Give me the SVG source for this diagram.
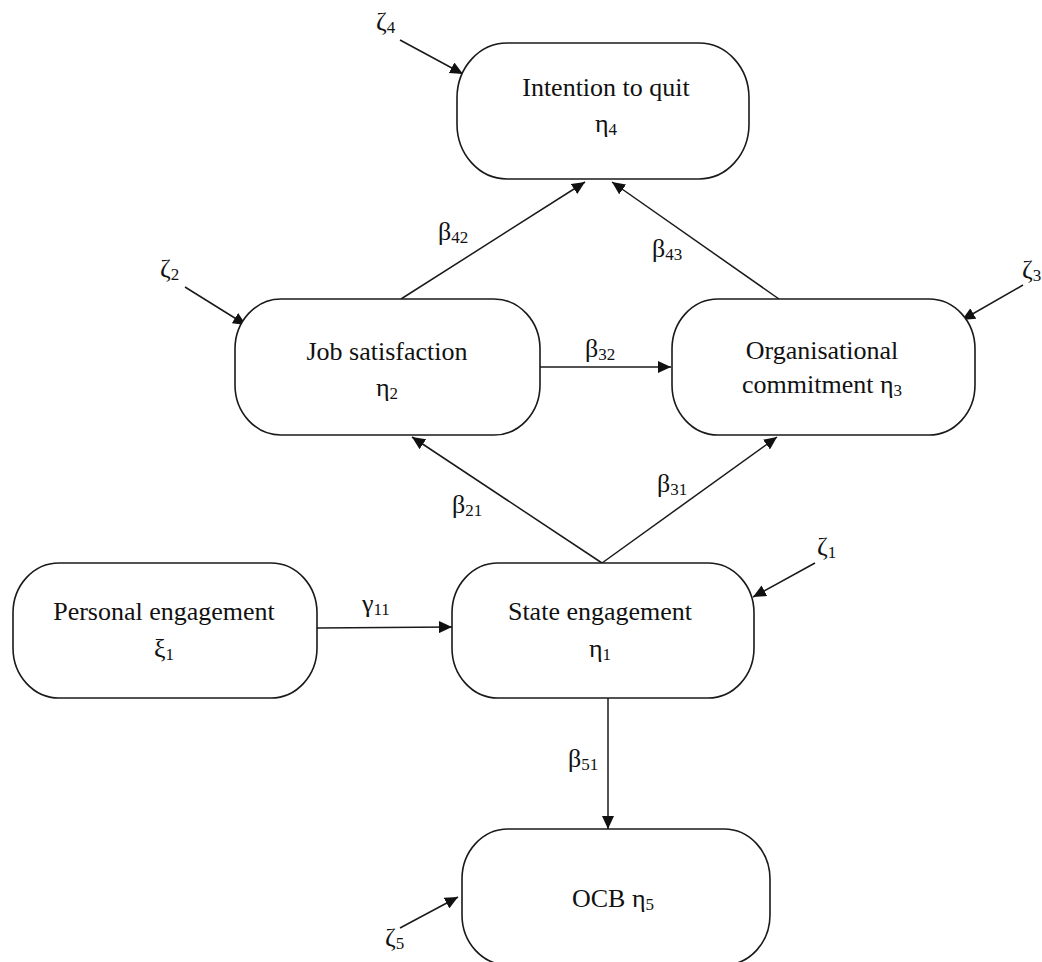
<svg xmlns="http://www.w3.org/2000/svg" width="1042" height="962" viewBox="0 0 1042 962">
  <style>
    .node { fill: #ffffff; stroke: #1a1a1a; stroke-width: 1.6; }
    .edge { fill: none; stroke: #1a1a1a; stroke-width: 1.5; }
    .lbl { font-family: "Liberation Serif", "Times New Roman", serif; font-size: 26px; fill: #111111; }
    .mid { text-anchor: middle; }
    .sub { font-size: 17px; }
  </style>
  <defs>
    <marker id="arrow" markerUnits="userSpaceOnUse" markerWidth="14" markerHeight="12" refX="13" refY="6" orient="auto">
      <path d="M0,0 L13,6 L0,12 z" fill="#111111"/>
    </marker>
  </defs>

  <rect width="1042" height="962" fill="#ffffff"/>

  <!-- connectors -->
  <g id="connectors">
    <line class="edge" x1="401" y1="299" x2="585" y2="182" marker-end="url(#arrow)"/>
    <line class="edge" x1="779" y1="299" x2="612" y2="182" marker-end="url(#arrow)"/>
    <line class="edge" x1="540" y1="367" x2="671" y2="367" marker-end="url(#arrow)"/>
    <line class="edge" x1="602" y1="563" x2="412" y2="437" marker-end="url(#arrow)"/>
    <line class="edge" x1="602" y1="563" x2="777" y2="437" marker-end="url(#arrow)"/>
    <line class="edge" x1="317" y1="628" x2="452" y2="627" marker-end="url(#arrow)"/>
    <line class="edge" x1="608" y1="698" x2="608" y2="829" marker-end="url(#arrow)"/>
    <!-- disturbance terms -->
    <line class="edge" x1="400" y1="40" x2="463" y2="74" marker-end="url(#arrow)"/>
    <line class="edge" x1="185" y1="287" x2="246" y2="325" marker-end="url(#arrow)"/>
    <line class="edge" x1="1023" y1="285" x2="962" y2="320" marker-end="url(#arrow)"/>
    <line class="edge" x1="815" y1="563" x2="753" y2="597" marker-end="url(#arrow)"/>
    <line class="edge" x1="400" y1="928" x2="458" y2="897" marker-end="url(#arrow)"/>
  </g>

  <!-- path coefficient labels -->
  <g id="coefficients" class="lbl">
    <text x="438" y="240">β<tspan class="sub" dy="3">42</tspan></text>
    <text x="652" y="257">β<tspan class="sub" dy="3">43</tspan></text>
    <text x="585" y="357">β<tspan class="sub" dy="3">32</tspan></text>
    <text x="452" y="513">β<tspan class="sub" dy="3">21</tspan></text>
    <text x="657" y="492">β<tspan class="sub" dy="3">31</tspan></text>
    <text x="362" y="612">γ<tspan class="sub" dy="3">11</tspan></text>
    <text x="568" y="767">β<tspan class="sub" dy="3">51</tspan></text>
  </g>

  <!-- disturbance labels -->
  <g id="disturbances" class="lbl">
    <text x="376" y="30">ζ<tspan class="sub" dy="3">4</tspan></text>
    <text x="160" y="277">ζ<tspan class="sub" dy="3">2</tspan></text>
    <text x="1022" y="278">ζ<tspan class="sub" dy="3">3</tspan></text>
    <text x="817" y="555">ζ<tspan class="sub" dy="3">1</tspan></text>
    <text x="385" y="946">ζ<tspan class="sub" dy="3">5</tspan></text>
  </g>

  <!-- nodes -->
  <g id="eta4">
    <rect class="node" x="457" y="43" width="292" height="136" rx="50" ry="55"/>
    <text class="lbl mid" x="606" y="96">Intention to quit</text>
    <text class="lbl mid" x="606" y="132">η<tspan class="sub" dy="3">4</tspan></text>
  </g>

  <g id="eta2">
    <rect class="node" x="235" y="299" width="305" height="136" rx="46" ry="50"/>
    <text class="lbl mid" x="387" y="360">Job satisfaction</text>
    <text class="lbl mid" x="387" y="396">η<tspan class="sub" dy="3">2</tspan></text>
  </g>

  <g id="eta3">
    <rect class="node" x="672" y="299" width="303" height="136" rx="46" ry="50"/>
    <text class="lbl mid" x="822" y="359">Organisational</text>
    <text class="lbl mid" x="822" y="393">commitment η<tspan class="sub" dy="3">3</tspan></text>
  </g>

  <g id="xi1">
    <rect class="node" x="13" y="563" width="304" height="135" rx="46" ry="50"/>
    <text class="lbl mid" x="164" y="620">Personal engagement</text>
    <text class="lbl mid" x="164" y="657">ξ<tspan class="sub" dy="3">1</tspan></text>
  </g>

  <g id="eta1">
    <rect class="node" x="452" y="563" width="302" height="135" rx="46" ry="50"/>
    <text class="lbl mid" x="600" y="620">State engagement</text>
    <text class="lbl mid" x="600" y="657">η<tspan class="sub" dy="3">1</tspan></text>
  </g>

  <g id="eta5">
    <rect class="node" x="462" y="829" width="308" height="136" rx="46" ry="50"/>
    <text class="lbl mid" x="613" y="907">OCB η<tspan class="sub" dy="3">5</tspan></text>
  </g>
</svg>
